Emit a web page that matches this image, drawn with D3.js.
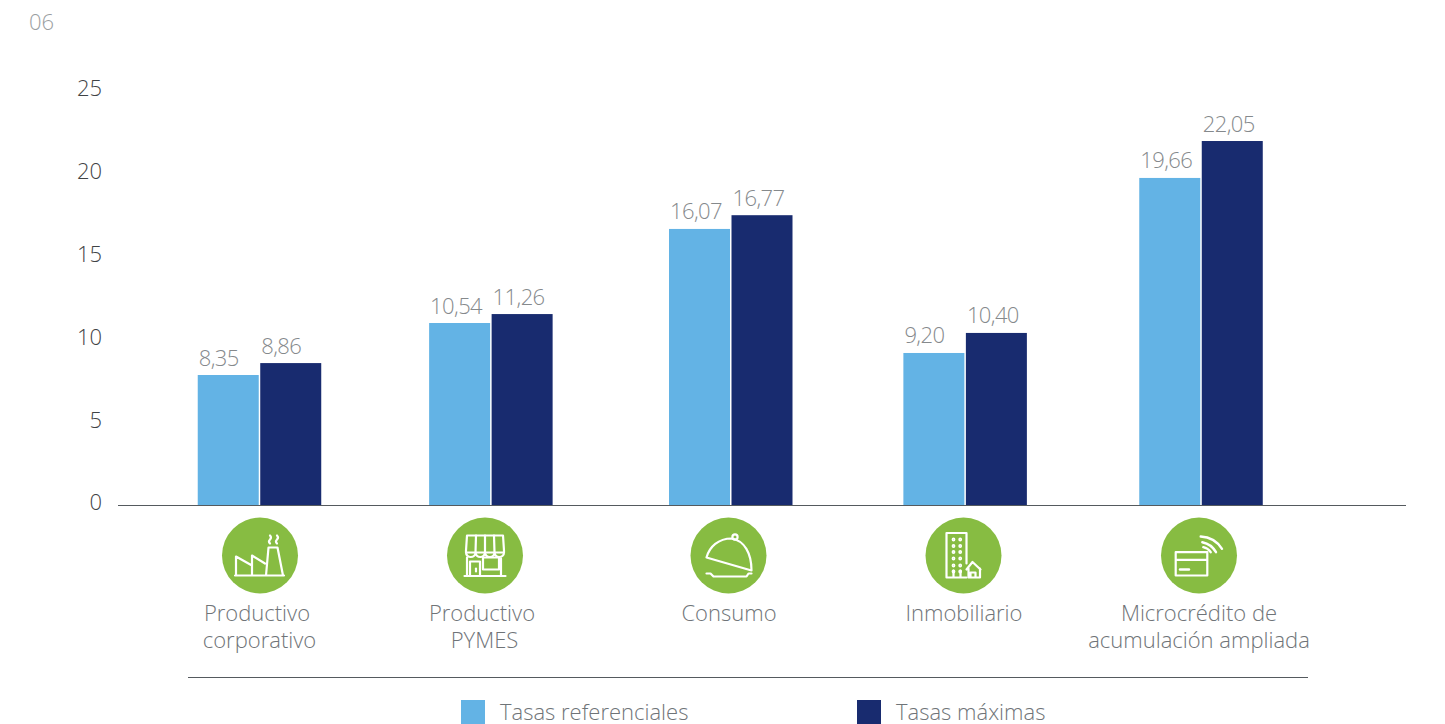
<!DOCTYPE html>
<html>
<head>
<meta charset="utf-8">
<script src="https://cdnjs.cloudflare.com/ajax/libs/d3/7.8.5/d3.min.js"></script>
<style>
html, body { margin: 0; background: #fff; }
svg { display: block; }
text { font-family: "Open Sans", sans-serif; font-weight: 300; }
</style>
</head>
<body>
<svg id="chart" width="1445" height="724"></svg>
<script>
const categories = ["Productivo corporativo", "Productivo PYMES", "Consumo", "Inmobiliario", "Microcrédito de acumulación ampliada"];
const categoryLines = [["Productivo", "corporativo"], ["Productivo", "PYMES"], ["Consumo"], ["Inmobiliario"], ["Microcrédito de", "acumulación ampliada"]];
// printed figures
const labelsReferencial = ["8,35", "10,54", "16,07", "9,20", "19,66"];
const labelsMaxima = ["8,86", "11,26", "16,77", "10,40", "22,05"];
// bar heights (they differ a bit from the printed figures)
const barsReferencial = [7.85, 10.99, 16.67, 9.18, 19.75];
const barsMaxima = [8.57, 11.53, 17.5, 10.39, 21.98];
const yTicks = [0, 5, 10, 15, 20, 25];
const legendNames = ["Tasas referenciales", "Tasas máximas"];
const pageNumber = "06";

const blue = "#63b3e5", navy = "#182b6f", green = "#87bc42", grey = "#6f7478";

const svg = d3.select("#chart");

const y = d3.scaleLinear().domain([0, 25]).range([505, 91]);
const x = d3.scaleBand().domain(categories).range([141.8, 1318.7]);
// the groups are not quite evenly spaced in the original
const groupNudge = [0, -4, 0.5, -0.5, 0];
const cx = (c, i) => x(c) + x.bandwidth() / 2 + groupNudge[i];
const barW = 61, gap = 1.5;

svg.append("text").attr("x", 29).attr("y", 30).attr("font-size", 22).attr("fill", "#9a9ea1").text(pageNumber);

// eje y, solo etiquetas
const axisY = d3.axisLeft(y).tickValues(yTicks).tickSize(0).tickPadding(0);
const gy = svg.append("g").attr("transform", "translate(102,0)").call(axisY);
gy.select(".domain").remove();
gy.selectAll("text")
    .attr("font-size", 22)
    .attr("fill", "#3f4346")
    .attr("dy", "0.22em")
    .style("font-family", '"Open Sans", sans-serif');

const series = [
    { bars: barsReferencial, labels: labelsReferencial, color: blue, side: -1 },
    { bars: barsMaxima, labels: labelsMaxima, color: navy, side: 1 }
];

series.forEach(s => {
    const left = (c, i) => s.side < 0 ? cx(c, i) - gap / 2 - barW : cx(c, i) + gap / 2;
    svg.append("g").selectAll("rect")
        .data(categories)
        .join("rect")
        .attr("x", left)
        .attr("y", (c, i) => y(s.bars[i]))
        .attr("width", barW)
        .attr("height", (c, i) => y(0) - y(s.bars[i]))
        .attr("fill", s.color);
    svg.append("g").selectAll("text")
        .data(categories)
        .join("text")
        .attr("x", (c, i) => left(c, i) + 1)
        .attr("y", (c, i) => y(s.bars[i]) - 9.5)
        .attr("font-size", 22)
        .attr("letter-spacing", "-0.6")
        .attr("fill", "#85898c")
        .text((c, i) => s.labels[i]);
});

svg.append("line").attr("x1", 118).attr("x2", 1406).attr("y1", 505.5).attr("y2", 505.5)
    .attr("stroke", "#555a5e").attr("stroke-width", 1.2);

// iconos, centrados en el circulo
const iconStroke = g => g.attr("fill", "none").attr("stroke", "#fff").attr("stroke-width", 2.2).attr("stroke-linejoin", "round").attr("stroke-linecap", "round");
const icons = [
    g => {
        g.append("path").attr("d", "M-24 20V1L-8 10V20M-8 10V0L5 8M6 20L8.5 -8H17.5L23 20M-25 20H24");
        g.append("path").attr("d", "M10 -20q2 2 0 4q-2 2 0 4M17 -20q2 2 0 4q-2 2 0 4");
    },
    g => {
        g.append("path").attr("d", "M-18 -20H18L19 -5V-3H-19V-5ZM-19 -3a4.75 4.5 0 0 0 9.5 0a4.75 4.5 0 0 0 9.5 0a4.75 4.5 0 0 0 9.5 0a4.75 4.5 0 0 0 9.5 0");
        g.append("path").attr("d", "M-9 -20L-9.5 -3M0 -20V-3M9 -20L9.5 -3");
        g.append("path").attr("d", "M-18 2V20M16 3V20M-20.5 20.5H20.5M-15 20V6H-5V20M-2 2H14V14H-2Z");
        g.append("path").attr("d", "M-9 13V16");
    },
    g => {
        g.append("path").attr("d", "M-22 2C-19 -9 -10 -17 3 -17C16 -15 23 -2 23 15L-22 2Z");
        g.append("circle").attr("cx", 6.5).attr("cy", -18.5).attr("r", 2.6);
        g.append("path").attr("d", "M-22 18H-18L-15 21H18L20 18H23");
    },
    g => {
        g.append("path").attr("d", "M3 8V-22.5H-17V22H3M-10 22V15M-3 22V15");
        g.append("path").attr("d", "M3 14L9 6.5L17 14M5 13V22H16.5V13M7 22V17H12V22");
        [-16, -9.5, -3.5, 3, 10, 16].forEach(dy => {
            g.append("circle").attr("cx", -10).attr("cy", dy).attr("r", 0.8);
            g.append("circle").attr("cx", -3.3).attr("cy", dy).attr("r", 0.8);
        });
    },
    g => {
        g.append("path").attr("d", "M-23.3 -3.3H8.3V20H-23.3ZM-23.3 4.3H8.3");
        g.append("path").attr("d", "M-19 14H-10").attr("stroke-width", 2.4);
        g.append("path").attr("d", "M4.3 -8.3A12 12 0 0 1 11.7 -3.3M3.3 -13.3A20 20 0 0 1 17 -3.3M1.7 -19A27 27 0 0 1 23 -6.7").attr("stroke-width", 2.4);
    }
];

const iconX = [260, 485, 728.5, 963.5, 1199];
const labelX = [[257, 259.5], [482, 484.5], [729], [964], [1199]];

categories.forEach((c, i) => {
    const g = svg.append("g").attr("transform", `translate(${iconX[i]},555.5)`);
    g.append("circle").attr("r", 38).attr("fill", green);
    const inner = g.append("g").call(iconStroke);
    icons[i](inner);
    const t = svg.append("text").attr("text-anchor", "middle").attr("font-size", 22).attr("fill", grey);
    categoryLines[i].forEach((line, k) => {
        t.append("tspan").attr("x", labelX[i][k] || labelX[i][0]).attr("y", 621 + k * 27).text(line);
    });
});

svg.append("line").attr("x1", 188).attr("x2", 1308).attr("y1", 677.5).attr("y2", 677.5)
    .attr("stroke", "#555a5e").attr("stroke-width", 1.2);

// leyenda
const legendX = [461, 857];
legendNames.forEach((name, i) => {
    svg.append("rect").attr("x", legendX[i]).attr("y", 700).attr("width", 24).attr("height", 24).attr("fill", series[i].color);
    svg.append("text").attr("x", legendX[i] + 39).attr("y", 720).attr("font-size", 22).attr("fill", grey).text(name);
});
</script>
</body>
</html>
